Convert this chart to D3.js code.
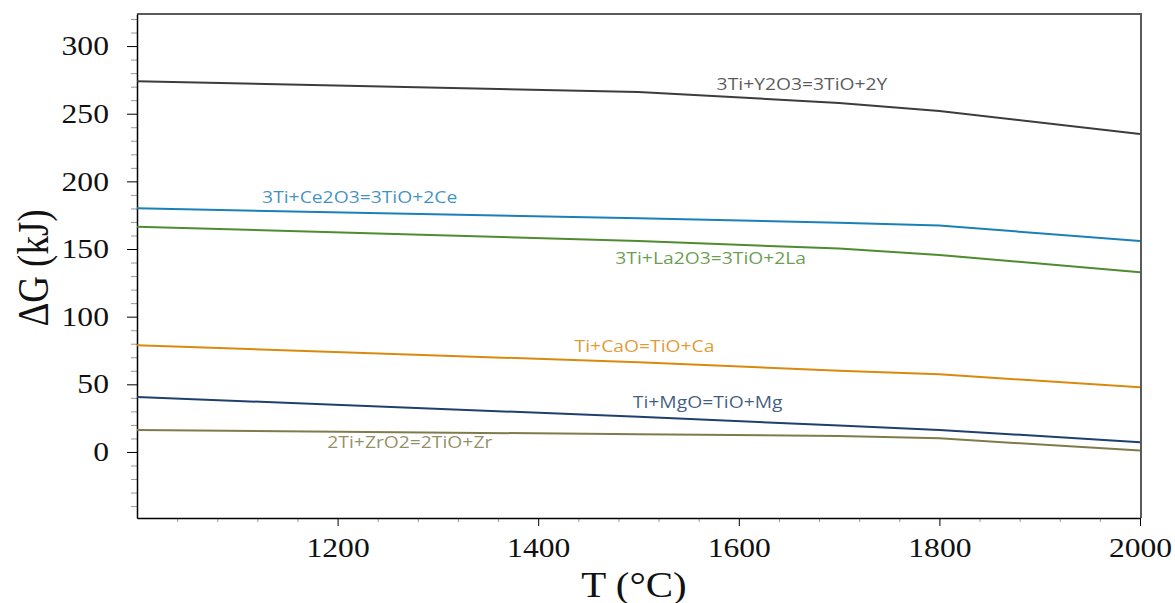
<!DOCTYPE html>
<html>
<head>
<meta charset="utf-8">
<script src="https://cdn.jsdelivr.net/npm/d3@7"></script>
<style>
  body { margin: 0; background: #fff; }
  .tick text { font-family: "Liberation Serif", "Times New Roman", serif; }
</style>
</head>
<body>
<div id="chart"></div>
<script>
// temperatures (°C) where the curves change slope
const temps = [1000, 1500, 1700, 1800, 2000];

// ΔG in kJ
const y2o3  = [274.0, 266.0, 258.0, 252.0, 235.0];
const ce2o3 = [180.1, 172.7, 169.5, 167.3, 156.0];
const la2o3 = [166.5, 156.0, 150.3, 145.6, 132.8];
const cao   = [78.9, 66.3, 60.1, 57.4, 47.8];
const mgo   = [40.6, 26.1, 19.5, 16.3, 7.2];
const zro2  = [16.3, 13.1, 11.8, 10.1, 1.0];

const reactions = ["3Ti+Y2O3=3TiO+2Y", "3Ti+Ce2O3=3TiO+2Ce", "3Ti+La2O3=3TiO+2La",
                   "Ti+CaO=TiO+Ca", "Ti+MgO=TiO+Mg", "2Ti+ZrO2=2TiO+Zr"];
// where each label sits, in data units [T, ΔG]
const labelAt = [[1663, 272], [1222, 188.5], [1572, 143.4], [1506, 78.3], [1569, 37], [1272, 7.4]];

const xMajor = [1200, 1400, 1600, 1800, 2000];
const yMajor = [0, 50, 100, 150, 200, 250, 300];

const colors = ["#3c3c3c", "#1b80b7", "#4f8b2f", "#d98a0d", "#1f3f6d", "#7f7b4c"];
const series = [y2o3, ce2o3, la2o3, cao, mgo, zro2];

const W = 1175, H = 603;
const padL = 137, padR = 1140, padT = 14, padB = 518;
const STRETCH = 1.17; // the source image is a bit wider than tall

const svg = d3.select("#chart").append("svg")
    .attr("width", W)
    .attr("height", H);

const x = d3.scaleLinear().domain([1000, 2000]).range([padL, padR]);
const y = d3.scaleLinear().domain([-48.8, 323.7]).range([padB, padT]);

// frame top + right
svg.append("path")
    .attr("d", `M${padL},${padT}H${padR + 1}V${padB}`)
    .attr("fill", "none")
    .attr("stroke", "#5a5a5a")
    .attr("stroke-width", 2);

// minor ticks
const yMinor = d3.range(-40, 321, 10).filter(v => v % 50 !== 0);
const xMinor = d3.range(1040, 2000, 40).filter(v => v % 200 !== 0);

svg.append("g")
    .attr("transform", `translate(${padL},0)`)
    .call(d3.axisLeft(y).tickValues(yMinor).tickSize(6).tickFormat(""))
    .call(g => g.select(".domain").remove())
    .call(g => g.selectAll("line").attr("stroke", "#999"));

svg.append("g")
    .attr("transform", `translate(0,${padB})`)
    .call(d3.axisBottom(x).tickValues(xMinor).tickSize(4).tickFormat(""))
    .call(g => g.select(".domain").remove())
    .call(g => g.selectAll("line").attr("stroke", "#999"));

// major axes
svg.append("g")
    .attr("transform", `translate(${padL},0)`)
    .call(d3.axisLeft(y).tickValues(yMajor).tickSize(10).tickPadding(14).tickSizeOuter(0))
    .call(g => g.select(".domain").attr("stroke-width", 1.5))
    .call(g => g.selectAll("text")
        .attr("font-size", 27)
        .attr("fill", "#111")
        .attr("transform", `scale(${STRETCH},1)`));

svg.append("g")
    .attr("transform", `translate(0,${padB})`)
    .call(d3.axisBottom(x).tickValues(xMajor).tickFormat(d3.format("d"))
        .tickSize(8).tickPadding(12).tickSizeOuter(0))
    .call(g => g.select(".domain").attr("stroke-width", 1.5))
    .call(g => g.selectAll("text")
        .attr("font-size", 27)
        .attr("fill", "#111")
        .attr("transform", `scale(${STRETCH},1)`));

// axis titles
svg.append("text")
    .attr("transform", `translate(48,268) rotate(-90) scale(1,${STRETCH})`)
    .attr("text-anchor", "middle")
    .attr("font-family", "Liberation Serif, serif")
    .attr("font-size", 37)
    .attr("fill", "#111")
    .text("ΔG (kJ)");

svg.append("text")
    .attr("transform", `translate(634,597) scale(${STRETCH},1)`)
    .attr("text-anchor", "middle")
    .attr("font-family", "Liberation Serif, serif")
    .attr("font-size", 35)
    .attr("fill", "#111")
    .text("T (°C)");

// curves
const line = d3.line()
    .x((d, i) => x(temps[i]))
    .y(d => y(d));

svg.append("g")
    .selectAll("path")
    .data(series)
    .join("path")
      .attr("d", line)
      .attr("fill", "none")
      .attr("stroke", (d, i) => colors[i])
      .attr("stroke-width", 2);

// reaction labels (stretched like the rest of the source image)
svg.append("g")
    .selectAll("text")
    .data(reactions)
    .join("text")
      .attr("transform", (d, i) =>
          `translate(${x(labelAt[i][0])},${y(labelAt[i][1])}) scale(${STRETCH},1)`)
      .attr("dy", "0.35em")
      .attr("text-anchor", "middle")
      .attr("font-family", "Open Sans, sans-serif")
      .attr("font-size", 16.5)
      .attr("fill", (d, i) => colors[i])
      .attr("fill-opacity", 0.85)
      .text(d => d);
</script>
</body>
</html>
